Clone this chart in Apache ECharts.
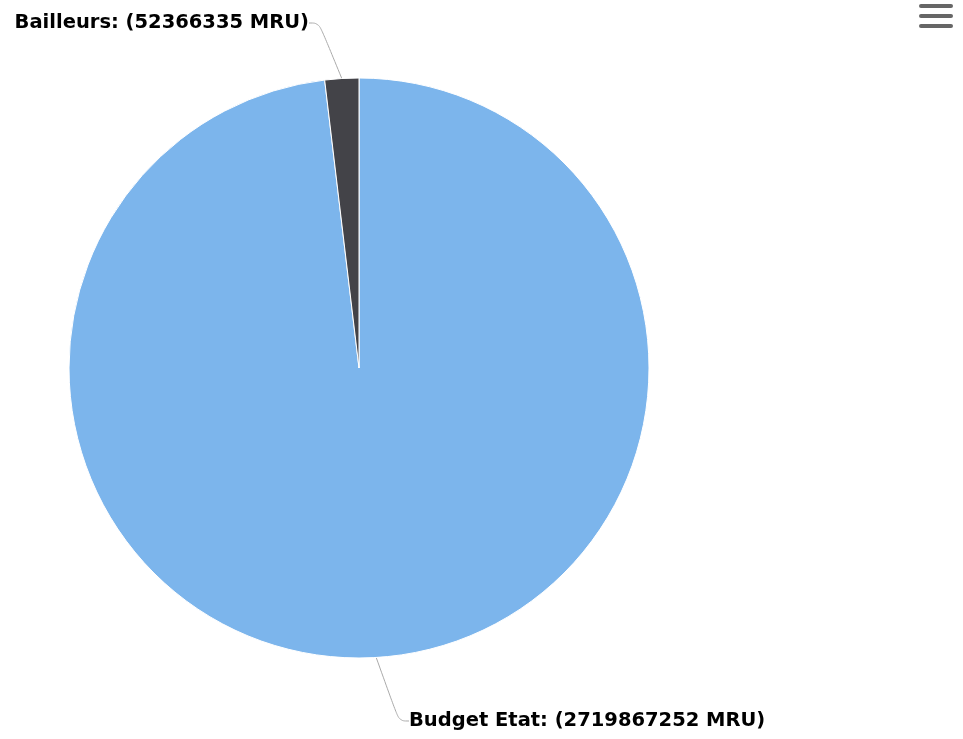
<!DOCTYPE html>
<html><head><meta charset="utf-8">
<script src="https://cdn.jsdelivr.net/npm/echarts@6/dist/echarts.min.js"></script>
<style>html,body{margin:0;padding:0;background:#fff}#c{width:963px;height:739px}</style>
</head><body><div id="c"></div>
<script>
const categories = ['Budget Etat', 'Bailleurs'];
const values = [2719867252, 52366335];
const colors = ['#7cb5ec', '#434348'];
const labelPos = {
  'Budget Etat': {x: 409, y: 721, align: 'left'},
  'Bailleurs': {x: 309, y: 23, align: 'right'}
};
const chart = echarts.init(document.getElementById('c'));
chart.setOption({
  animation: false,
  graphic: [
    {type: 'rect', shape: {x: 919, y: 4, width: 34, height: 4, r: 2}, style: {fill: '#666'}},
    {type: 'rect', shape: {x: 919, y: 14, width: 34, height: 4, r: 2}, style: {fill: '#666'}},
    {type: 'rect', shape: {x: 919, y: 24, width: 34, height: 4, r: 2}, style: {fill: '#666'}}
  ],
  series: [{
    type: 'pie',
    center: [359, 368],
    radius: [0, 290],
    startAngle: 90,
    clockwise: true,
    data: categories.map((n, i) => ({name: n, value: values[i], itemStyle: {color: colors[i]}})),
    itemStyle: {borderColor: '#fff', borderWidth: 1},
    label: {
      show: true, position: 'outside',
      formatter: p => p.name + ': (' + p.value + ' MRU)',
      fontFamily: 'DejaVu Sans', fontWeight: 'bold', fontSize: 19.5, color: '#000'
    },
    labelLine: {show: true, length: 20, length2: 10, smooth: 0.4, lineStyle: {color: '#aaa', width: 1}},
    labelLayout: function (params) {
      const name = categories[params.dataIndex];
      const p = labelPos[name];
      return {x: p.x, y: p.y, align: p.align, verticalAlign: 'middle'};
    }
  }]
});
</script></body></html>
